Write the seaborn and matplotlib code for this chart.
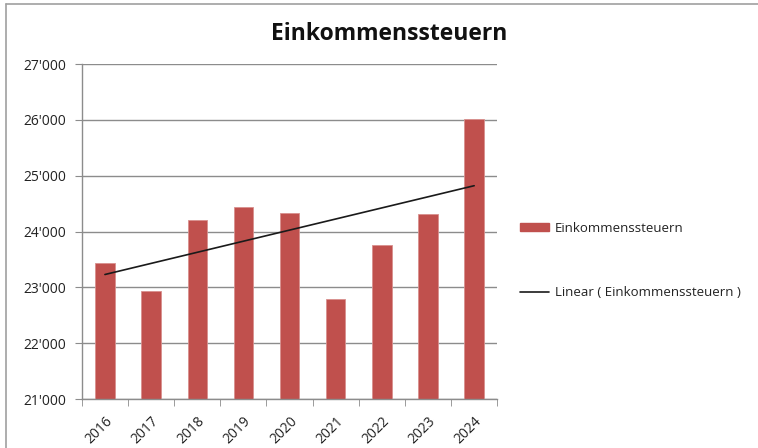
import numpy as np
import pandas as pd
import matplotlib
matplotlib.use("Agg")
import matplotlib.pyplot as plt
import matplotlib.ticker as mticker
from matplotlib.lines import Line2D
from matplotlib.patches import Patch
import seaborn as sns

years = ['2016', '2017', '2018', '2019', '2020', '2021', '2022', '2023', '2024']
steuern = [23445, 22928, 24204, 24445, 24337, 22790, 23758, 24313, 26024]
y_ticks = [21000, 22000, 23000, 24000, 25000, 26000, 27000]

df = pd.DataFrame({'Jahr': years, 'Einkommenssteuern': steuern})

sns.set_style("white")
plt.rcParams['font.family'] = ['Open Sans', 'DejaVu Sans']

bar_color = '#C0504D'
grid_color = '#8C8C8C'

fig = plt.figure(figsize=(7.58, 4.48), dpi=100)
ax = fig.add_axes([0.108, 0.109, 0.548, 0.748])

sns.barplot(data=df, x='Jahr', y='Einkommenssteuern', color=bar_color,
            width=0.42, saturation=1, ax=ax, zorder=2,
            edgecolor='#D8908E', linewidth=0.6)

# linear trend line
xs = np.arange(len(years))
slope, intercept = np.polyfit(xs, steuern, 1)
ax.plot(xs, slope * xs + intercept, color='#1a1a1a', lw=1.2, zorder=3)

ax.set_ylim(21000, 27000)
ax.set_xlim(-0.5, len(years) - 0.5)
ax.set_yticks(y_ticks)
ax.yaxis.set_major_formatter(mticker.FuncFormatter(lambda v, _: f"{int(v):,}".replace(',', "'")))
ax.yaxis.grid(True, color=grid_color, lw=1, zorder=0)
ax.set_axisbelow(True)

ax.set_xlabel('')
ax.set_ylabel('')
for s in ['top', 'right']:
    ax.spines[s].set_visible(False)
for s in ['left', 'bottom']:
    ax.spines[s].set_color(grid_color)
    ax.spines[s].set_linewidth(1)

ax.tick_params(axis='y', which='major', left=True, length=5, color=grid_color,
               labelsize=10, labelcolor='#222222', pad=6)
ax.set_xticks(xs)
ax.set_xticklabels(years, rotation=45, ha='right', rotation_mode='anchor')
ax.tick_params(axis='x', which='major', bottom=False, labelsize=10,
               labelcolor='#222222', pad=7)
ax.set_xticks(np.arange(-0.5, len(years), 1), minor=True)
ax.tick_params(axis='x', which='minor', bottom=True, length=5, color=grid_color)

fig.suptitle('Einkommenssteuern', x=0.513, y=0.95, fontsize=16.5,
             fontweight='bold', color='#111111')

handles = [Patch(facecolor=bar_color, edgecolor=bar_color),
           Line2D([0], [0], color='#1a1a1a', lw=1.2)]
labels = ['Einkommenssteuern', 'Linear ( Einkommenssteuern )']
fig.legend(handles, labels, loc='upper left', bbox_to_anchor=(0.67, 0.532),
           frameon=False, fontsize=9.5, labelspacing=3.9, handlelength=2.2,
           handleheight=0.5, handletextpad=0.45, labelcolor='#222222')

# chart frame (top and left edges)
fig.add_artist(Line2D([0.008, 1.0], [0.991, 0.991], color='#A0A0A0', lw=1.2,
                      transform=fig.transFigure))
fig.add_artist(Line2D([0.008, 0.008], [0.0, 0.991], color='#A0A0A0', lw=1.2,
                      transform=fig.transFigure))

fig.savefig('out.png', dpi=100)
